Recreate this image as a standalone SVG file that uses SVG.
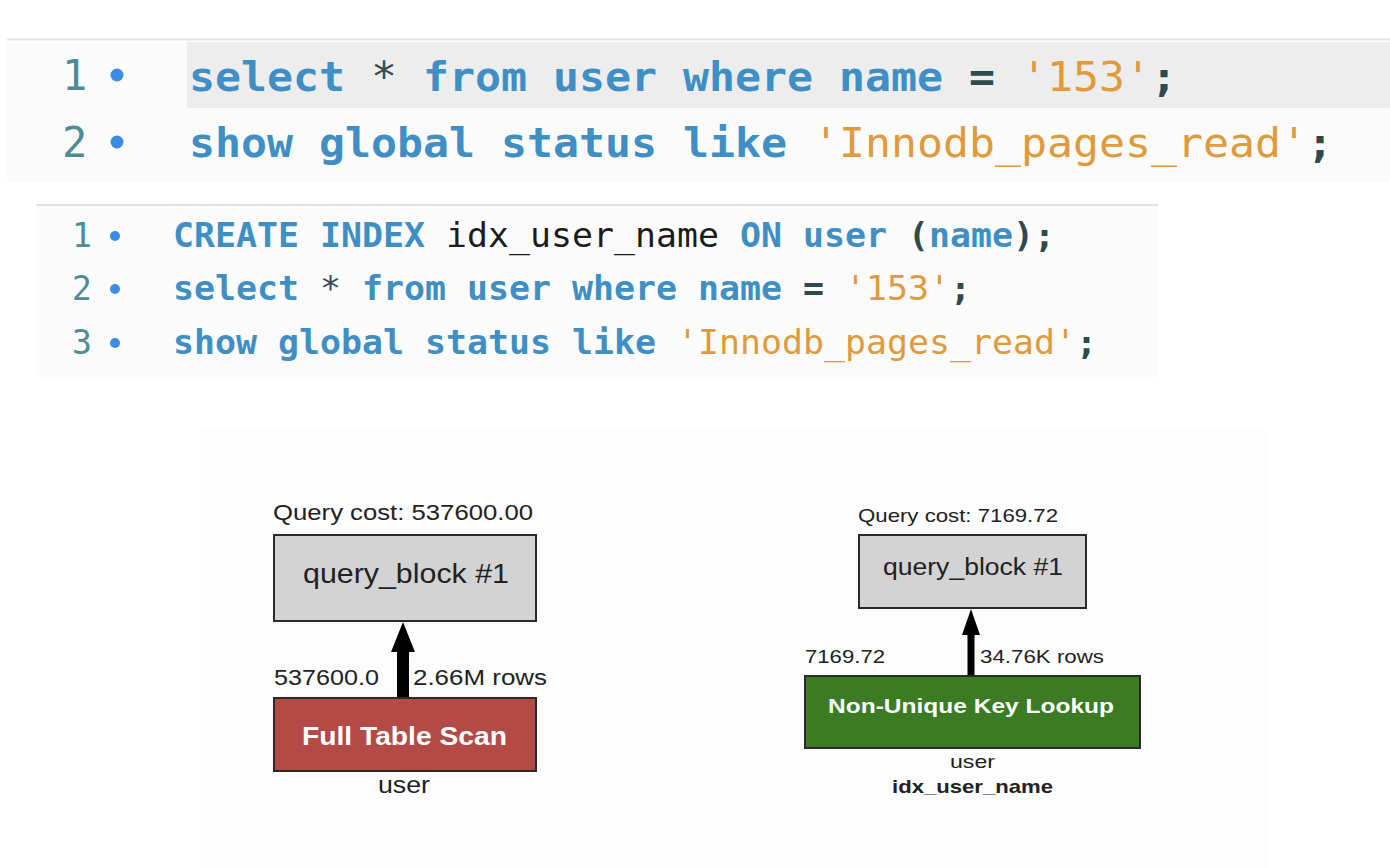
<svg xmlns="http://www.w3.org/2000/svg" width="1390" height="868" viewBox="0 0 1390 868">
<style>
.code{font-family:"DejaVu Sans Mono","Liberation Mono",monospace;font-weight:bold}
.kw{fill:#3f8fc4}
.str{fill:#e09a3c;font-weight:normal}
.pun{fill:#2f4a4f}
.ast{fill:#3a4a4e;font-weight:normal}
.id{fill:#1c1c1c;font-weight:normal}
.ln{font-family:"DejaVu Sans Mono","Liberation Mono",monospace;fill:#4d8b97}
.dot{fill:#3b8ae6}
.lbl{font-family:"Liberation Sans",Arial,sans-serif;fill:#222}
.wt{font-family:"Liberation Sans",Arial,sans-serif;fill:#fff;font-weight:bold}
.box{stroke:#2a2a2a;stroke-width:2}
</style>
<rect width="1390" height="868" fill="#ffffff"/>
<!-- top code panel -->
<rect x="7" y="40" width="1383" height="142" fill="#fbfbfb"/>
<line x1="7" y1="39.5" x2="1390" y2="39.5" stroke="#e6e6e6" stroke-width="2"/>
<rect x="187" y="42" width="1203" height="66" fill="#ededed"/>
<text class="ln" x="62" y="90" font-size="42">1</text>
<circle class="dot" cx="117" cy="75" r="6.5"/>
<text class="ln" x="62" y="157" font-size="42">2</text>
<circle class="dot" cx="117" cy="142" r="6.5"/>
<text class="code" x="189" y="91" font-size="41" textLength="988" lengthAdjust="spacingAndGlyphs"><tspan class="kw">select</tspan> <tspan class="ast">*</tspan> <tspan class="kw">from</tspan> <tspan class="kw">user</tspan> <tspan class="kw">where</tspan> <tspan class="kw">name</tspan> <tspan class="pun">=</tspan> <tspan class="str">'153'</tspan><tspan class="pun">;</tspan></text>
<text class="code" x="189" y="157" font-size="41" textLength="1144" lengthAdjust="spacingAndGlyphs"><tspan class="kw">show</tspan> <tspan class="kw">global</tspan> <tspan class="kw">status</tspan> <tspan class="kw">like</tspan> <tspan class="str">'Innodb_pages_read'</tspan><tspan class="pun">;</tspan></text>
<!-- second code panel -->
<rect x="36" y="206" width="1122" height="171" fill="#fbfbfb"/>
<line x1="36" y1="205" x2="1158" y2="205" stroke="#e2e2e2" stroke-width="2"/>
<text class="ln" x="72" y="247" font-size="33">1</text>
<circle class="dot" cx="115" cy="236" r="5"/>
<text class="ln" x="72" y="300" font-size="33">2</text>
<circle class="dot" cx="115" cy="289" r="5"/>
<text class="ln" x="72" y="354" font-size="33">3</text>
<circle class="dot" cx="115" cy="343" r="5"/>
<text class="code" x="173" y="247" font-size="34" textLength="882" lengthAdjust="spacingAndGlyphs"><tspan class="kw">CREATE</tspan> <tspan class="kw">INDEX</tspan> <tspan class="id">idx_user_name</tspan> <tspan class="kw">ON</tspan> <tspan class="kw">user</tspan> <tspan class="pun">(</tspan><tspan class="kw">name</tspan><tspan class="pun">);</tspan></text>
<text class="code" x="173" y="300" font-size="34" textLength="798" lengthAdjust="spacingAndGlyphs"><tspan class="kw">select</tspan> <tspan class="ast">*</tspan> <tspan class="kw">from</tspan> <tspan class="kw">user</tspan> <tspan class="kw">where</tspan> <tspan class="kw">name</tspan> <tspan class="pun">=</tspan> <tspan class="str">'153'</tspan><tspan class="pun">;</tspan></text>
<text class="code" x="173" y="354" font-size="34" textLength="924" lengthAdjust="spacingAndGlyphs"><tspan class="kw">show</tspan> <tspan class="kw">global</tspan> <tspan class="kw">status</tspan> <tspan class="kw">like</tspan> <tspan class="str">'Innodb_pages_read'</tspan><tspan class="pun">;</tspan></text>
<!-- diagram panel -->
<rect x="200" y="429" width="1067" height="439" fill="#fdfdfd"/>
<text class="lbl" x="273" y="520" font-size="22" textLength="260" lengthAdjust="spacingAndGlyphs">Query cost: 537600.00</text>
<text class="lbl" x="858" y="522" font-size="19" textLength="200" lengthAdjust="spacingAndGlyphs">Query cost: 7169.72</text>
<g id="connectors">
<rect x="397" y="650" width="12" height="48" fill="#000"/>
<polygon points="403,622 415,652 391,652" fill="#000"/>
<rect x="967.5" y="632" width="7" height="44" fill="#000"/>
<polygon points="971,609 980,635 962,635" fill="#000"/>
<text class="lbl" x="274" y="685" font-size="22" textLength="105" lengthAdjust="spacingAndGlyphs">537600.0</text>
<text class="lbl" x="413" y="685" font-size="22" textLength="134" lengthAdjust="spacingAndGlyphs">2.66M rows</text>
<text class="lbl" x="805" y="663" font-size="19" textLength="80" lengthAdjust="spacingAndGlyphs">7169.72</text>
<text class="lbl" x="980" y="663" font-size="19" textLength="124" lengthAdjust="spacingAndGlyphs">34.76K rows</text>
</g>
<g id="qb1">
<rect class="box" x="274" y="535" width="262" height="86" fill="#d3d3d3"/>
<text class="lbl" x="303" y="583" font-size="27" textLength="206" lengthAdjust="spacingAndGlyphs">query_block #1</text>
</g>
<g id="fts">
<rect class="box" x="274" y="698" width="262" height="73" fill="#b34a46"/>
<text class="wt" x="302" y="745" font-size="25" textLength="205" lengthAdjust="spacingAndGlyphs">Full Table Scan</text>
<text class="lbl" x="378" y="793" font-size="23" textLength="52" lengthAdjust="spacingAndGlyphs">user</text>
</g>
<g id="qb2">
<rect class="box" x="859" y="535" width="227" height="73" fill="#d3d3d3"/>
<text class="lbl" x="883" y="575" font-size="23" textLength="180" lengthAdjust="spacingAndGlyphs">query_block #1</text>
</g>
<g id="nukl">
<rect class="box" x="805" y="676" width="335" height="72" fill="#3a7b23"/>
<text class="wt" x="828" y="713" font-size="21" textLength="286" lengthAdjust="spacingAndGlyphs">Non-Unique Key Lookup</text>
<text class="lbl" x="950" y="768" font-size="19" textLength="45" lengthAdjust="spacingAndGlyphs">user</text>
<text class="lbl" x="892" y="793" font-size="19" font-weight="bold" textLength="161" lengthAdjust="spacingAndGlyphs">idx_user_name</text>
</g>
</svg>
